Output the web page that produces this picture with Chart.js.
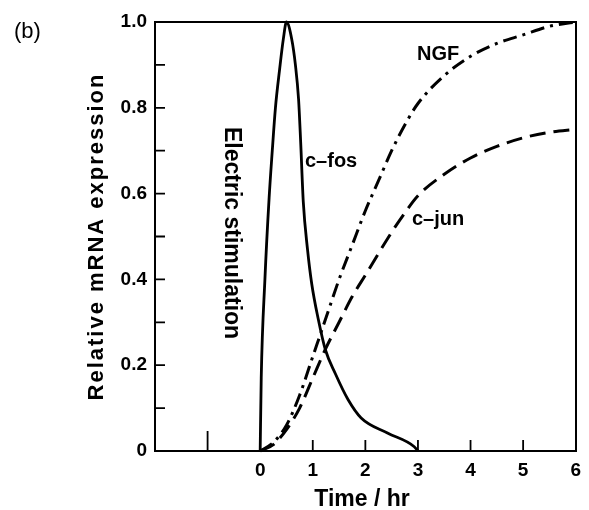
<!DOCTYPE html>
<html>
<head>
<meta charset="utf-8">
<script src="https://cdn.jsdelivr.net/npm/chart.js@4.4.0/dist/chart.umd.min.js"></script>
<style>
html, body { margin: 0; padding: 0; background: #fff; }
</style>
</head>
<body>
<canvas id="chart" width="589" height="510"></canvas>
<script>
// values (time in hr, relative expression)
const fosTime  = [0, 0.02, 0.09, 0.17, 0.23, 0.29, 0.37, 0.44, 0.5, 0.6, 0.67, 0.73, 0.77, 0.82, 0.9, 0.98, 1.1, 1.24, 1.43, 1.67, 1.92, 2.42, 2.93, 3.0];
const fosValue = [0, 0.17, 0.40, 0.59, 0.70, 0.80, 0.89, 0.96, 1.0, 0.96, 0.90, 0.82, 0.72, 0.58, 0.47, 0.39, 0.31, 0.236, 0.18, 0.12, 0.077, 0.042, 0.01, 0.0];

const ngfTime  = [0, 0.25, 0.5, 0.75, 1.0, 1.25, 1.5, 1.75, 2.0, 2.25, 2.5, 2.75, 3.0, 3.5, 4.0, 4.5, 5.0, 5.5, 6.0];
const ngfValue = [0, 0.02, 0.06, 0.13, 0.22, 0.31, 0.40, 0.48, 0.56, 0.63, 0.70, 0.76, 0.81, 0.875, 0.92, 0.95, 0.97, 0.99, 1.0];

const junTime  = [0, 0.25, 0.5, 0.75, 1.0, 1.25, 1.5, 1.75, 2.0, 2.5, 2.75, 3.0, 3.5, 4.0, 4.5, 5.0, 5.5, 6.0];
const junValue = [0, 0.015, 0.05, 0.10, 0.17, 0.24, 0.30, 0.36, 0.41, 0.51, 0.555, 0.595, 0.645, 0.683, 0.71, 0.73, 0.743, 0.75];

const xLabelled = [0, 1, 2, 3, 4, 5, 6];
const xInnerTicks = [-1, 1, 2, 3, 4, 5];
const yInnerTicks = [0.1, 0.2, 0.3, 0.4, 0.5, 0.6, 0.7, 0.8, 0.9];

const FONT = "'Liberation Sans', Arial, sans-serif";

function toPoints(xs, ys) {
    return xs.map((x, i) => ({ x: x, y: ys[i] }));
}

// frame, inner ticks and the free text in the plot
const extras = {
    id: 'extras',
    afterDraw(chart) {
        const ctx = chart.ctx;
        const a = chart.chartArea;
        const xs = chart.scales.x;
        const ys = chart.scales.y;
        const left = Math.round(a.left), right = Math.round(a.right);
        const top = Math.round(a.top), bottom = Math.round(a.bottom);
        ctx.save();
        ctx.strokeStyle = '#000';
        ctx.fillStyle = '#000';
        // frame as filled bars so it stays crisp
        ctx.fillRect(left - 1, top - 1, 2, bottom - top + 2);
        ctx.fillRect(left - 1, bottom - 1, right - left + 2, 2);
        ctx.fillRect(left - 1, top - 1, right - left + 2, 2);
        ctx.fillRect(right - 1, top - 1, 2, bottom - top + 2);

        ctx.lineWidth = 1.8;
        ctx.beginPath();
        yInnerTicks.forEach(v => {
            const py = ys.getPixelForValue(v);
            ctx.moveTo(left, py);
            ctx.lineTo(left + 10, py);
        });
        xInnerTicks.forEach(v => {
            const px = xs.getPixelForValue(v);
            ctx.moveTo(px, bottom);
            ctx.lineTo(px, bottom - (v < 0 ? 20 : 11));
        });
        ctx.stroke();

        ctx.textBaseline = 'alphabetic';
        ctx.textAlign = 'left';

        ctx.font = '22px ' + FONT;
        ctx.fillText('(b)', 14, 38);

        ctx.font = 'bold 20px ' + FONT;
        ctx.fillText('NGF', 417, 60);
        ctx.fillText('c\u2013fos', 305, 167);
        ctx.fillText('c\u2013jun', 412, 225);

        // vertical label, reads top to bottom
        ctx.save();
        ctx.translate(225, 127);
        ctx.rotate(Math.PI / 2);
        ctx.font = 'bold 23px ' + FONT;
        ctx.fillText('Electric stimulation', 0, 0);
        ctx.restore();

        // y axis title, reads bottom to top
        ctx.save();
        ctx.translate(103, (top + bottom) / 2);
        ctx.rotate(-Math.PI / 2);
        ctx.font = 'bold 22px ' + FONT;
        ctx.letterSpacing = '2px';
        ctx.textAlign = 'center';
        ctx.fillText('Relative mRNA expression', 0, 0);
        ctx.restore();

        // x axis title
        ctx.font = 'bold 23px ' + FONT;
        ctx.textAlign = 'center';
        ctx.fillText('Time / hr', 362, 506);

        ctx.restore();
    }
};

const ctx = document.getElementById('chart').getContext('2d');
const chart = new Chart(ctx, {
    type: 'line',
    data: {
        datasets: [
            {
                label: 'c-fos',
                data: toPoints(fosTime, fosValue),
                borderColor: '#000',
                borderWidth: 2.8,
                pointRadius: 0,
                cubicInterpolationMode: 'monotone',
            },
            {
                label: 'NGF',
                data: toPoints(ngfTime, ngfValue),
                borderColor: '#000',
                borderWidth: 3,
                borderDash: [14, 6, 3, 6],
                pointRadius: 0,
                cubicInterpolationMode: 'monotone',
            },
            {
                label: 'c-jun',
                data: toPoints(junTime, junValue),
                borderColor: '#000',
                borderWidth: 3,
                borderDash: [16, 8],
                pointRadius: 0,
                cubicInterpolationMode: 'monotone',
            }
        ]
    },
    options: {
        responsive: false,
        animation: false,
        clip: false,
        layout: { padding: { left: 0, top: 22, right: 9, bottom: 0 } },
        plugins: {
            legend: { display: false },
            tooltip: { enabled: false },
        },
        scales: {
            x: {
                type: 'linear',
                min: -2,
                max: 6,
                afterFit: (s) => { s.height = 59; },
                afterBuildTicks: (s) => { s.ticks = xLabelled.map(v => ({ value: v })); },
                grid: { display: false, drawTicks: false },
                border: { display: true, color: '#000', width: 2 },
                ticks: {
                    color: '#000',
                    padding: 8,
                    autoSkip: false,
                    maxRotation: 0,
                    font: { family: FONT, size: 19, weight: 'bold' },
                },
                title: { display: false },
            },
            y: {
                min: 0,
                max: 1,
                afterFit: (s) => { s.width = 155; },
                grid: { display: false, drawTicks: false },
                border: { display: true, color: '#000', width: 2 },
                ticks: {
                    stepSize: 0.2,
                    color: '#000',
                    padding: 8,
                    font: { family: FONT, size: 19, weight: 'bold' },
                    callback: (v) => v === 0 ? '0' : v.toFixed(1),
                },
                title: { display: false },
            },
        },
    },
    plugins: [extras],
});
</script>
</body>
</html>
